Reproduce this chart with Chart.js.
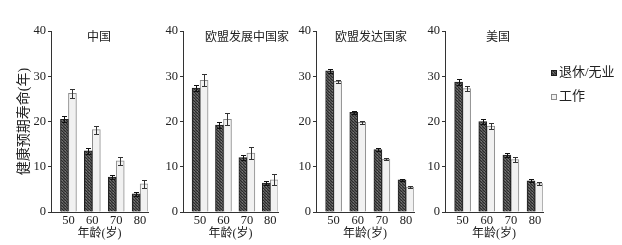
<!DOCTYPE html>
<html>
<head>
<meta charset="utf-8">
<script src="https://cdn.jsdelivr.net/npm/chart.js@4.4.1/dist/chart.umd.min.js"></script>
<style>
    body { margin: 0; background: #fff; width: 622px; height: 245px; overflow: hidden; position: relative; }
    canvas { position: absolute; top: 0; }
</style>
</head>
<body>
<canvas id="c0" width="150" height="245" style="left:0"></canvas>
<canvas id="c1" width="142" height="245" style="left:150px"></canvas>
<canvas id="c2" width="134" height="245" style="left:282px"></canvas>
<canvas id="c3" width="206" height="245" style="left:416px"></canvas>
<script>
const ages = [50, 60, 70, 80]
const yTicks = [0, 10, 20, 30, 40]
const panelNames = ['中国', '欧盟发展中国家', '欧盟发达国家', '美国']
const seriesNames = ['退休/无业', '工作']
const yTitle = '健康预期寿命(年)'
const xTitle = '年龄(岁)'

const chinaRetired = [20.5, 13.5, 7.7, 4.0]
const chinaRetiredErr = [0.7, 0.6, 0.5, 0.4]
const chinaWorking = [26.2, 18.2, 11.3, 6.2]
const chinaWorkingErr = [0.9, 0.9, 0.9, 0.8]

const euDevRetired = [27.4, 19.2, 12.0, 6.4]
const euDevRetiredErr = [0.7, 0.6, 0.6, 0.5]
const euDevWorking = [29.1, 20.5, 13.0, 7.1]
const euDevWorkingErr = [1.3, 1.3, 1.3, 1.2]

const euAdvRetired = [31.2, 22.0, 13.8, 7.1]
const euAdvRetiredErr = [0.4, 0.3, 0.3, 0.2]
const euAdvWorking = [28.9, 19.8, 11.7, 5.5]
const euAdvWorkingErr = [0.3, 0.4, 0.3, 0.2]

const usRetired = [28.7, 20.0, 12.6, 6.9]
const usRetiredErr = [0.6, 0.6, 0.4, 0.3]
const usWorking = [27.3, 19.0, 11.6, 6.3]
const usWorkingErr = [0.6, 0.6, 0.5, 0.4]

const SERIF = '"Liberation Serif", "Noto Sans CJK SC", serif'
const CJK = '"Liberation Serif", "Noto Sans CJK SC", sans-serif'

// dark crosshatch fill for the retired bars
function hatch() {
    const c = document.createElement('canvas')
    c.width = 3
    c.height = 3
    const g = c.getContext('2d')
    g.fillStyle = '#555'
    g.fillRect(0, 0, 3, 3)
    g.fillStyle = '#2a2a2a'
    g.fillRect(0, 0, 1, 1)
    g.fillRect(1, 1, 1, 1)
    g.fillRect(2, 2, 1, 1)
    g.fillStyle = '#777'
    g.fillRect(2, 0, 1, 1)
    return g.createPattern(c, 'repeat')
}
const hatchFill = hatch()

const errorBars = {
    id: 'errorBars',
    afterDatasetsDraw(chart) {
        const { ctx } = chart
        const y = chart.scales.y
        chart.data.datasets.forEach((ds, i) => {
            const meta = chart.getDatasetMeta(i)
            ctx.save()
            ctx.strokeStyle = ds.errorColor
            ctx.lineWidth = 1
            meta.data.forEach((bar, j) => {
                const v = ds.data[j].y
                const top = Math.round(y.getPixelForValue(v + ds.errors[j])) + 0.5
                const bottom = Math.round(y.getPixelForValue(v - ds.errors[j])) + 0.5
                const x = Math.round(bar.x) + 0.5
                ctx.beginPath()
                ctx.moveTo(x, top)
                ctx.lineTo(x, bottom)
                ctx.moveTo(x - 2.5, top)
                ctx.lineTo(x + 2.5, top)
                ctx.moveTo(x - 2.5, bottom)
                ctx.lineTo(x + 2.5, bottom)
                ctx.stroke()
            })
            ctx.restore()
        })
    }
}

const panelTitle = {
    id: 'panelTitle',
    afterDraw(chart, args, opts) {
        const { ctx } = chart
        ctx.save()
        ctx.font = `12px ${CJK}`
        ctx.fillStyle = '#222'
        ctx.textAlign = 'center'
        ctx.textBaseline = 'middle'
        ctx.fillText(opts.text, opts.x, 38)
        ctx.restore()
    }
}

const sideLegend = {
    id: 'sideLegend',
    afterDraw(chart, args, opts) {
        if (!opts.show) return
        const { ctx } = chart
        ctx.save()
        ctx.font = `13px ${CJK}`
        ctx.textBaseline = 'middle'
        chart.data.datasets.forEach((ds, i) => {
            const yy = 73 + i * 24
            ctx.fillStyle = ds.backgroundColor
            ctx.fillRect(135, yy - 3, 6, 6)
            ctx.strokeStyle = ds.borderColor
            ctx.lineWidth = 1
            ctx.strokeRect(135.5, yy - 2.5, 5, 5)
            ctx.fillStyle = '#222'
            ctx.fillText(ds.label, 143, yy)
        })
        ctx.restore()
    }
}

function makePanel(id, opt) {
    const toPoints = vals => ages.map((a, i) => ({ x: a, y: vals[i] }))
    return new Chart(document.getElementById(id), {
        type: 'bar',
        data: {
            datasets: [{
                label: seriesNames[0],
                data: toPoints(opt.retired),
                errors: opt.retiredErr,
                backgroundColor: hatchFill,
                borderColor: '#1e1e1e',
                borderWidth: 1,
                errorColor: '#111',
                barThickness: 8
            }, {
                label: seriesNames[1],
                data: toPoints(opt.working),
                errors: opt.workingErr,
                backgroundColor: '#f1f1f1',
                borderColor: '#8c8c8c',
                borderWidth: 1,
                errorColor: '#333',
                barThickness: 8
            }]
        },
        options: {
            responsive: false,
            animation: false,
            layout: { padding: { top: 31, right: opt.padRight, bottom: 0, left: 0 } },
            plugins: {
                legend: { display: false },
                tooltip: { enabled: false },
                panelTitle: { text: opt.name, x: opt.titleX },
                sideLegend: { show: !!opt.legend }
            },
            scales: {
                x: {
                    type: 'linear',
                    offset: false,
                    min: 42.7,
                    max: 83.3,
                    afterBuildTicks: scale => { scale.ticks = ages.map(v => ({ value: v })) },
                    afterFit: scale => { scale.height = 33 },
                    grid: { display: true, offset: false, drawOnChartArea: false, drawTicks: false },
                    border: { color: '#333', width: 1 },
                    ticks: { color: '#222', font: { family: SERIF, size: 12.5 }, padding: 1, autoSkip: false, maxRotation: 0 },
                    title: { display: true, text: xTitle, color: '#222', font: { family: CJK, size: 12 }, padding: { top: 0, bottom: 4 } }
                },
                y: {
                    min: 0,
                    max: 40,
                    afterBuildTicks: scale => { scale.ticks = yTicks.map(v => ({ value: v })) },
                    afterFit: scale => { scale.width = opt.yWidth },
                    grid: { display: true, drawOnChartArea: false, drawTicks: true, tickLength: 3, color: '#333' },
                    border: { color: '#333', width: 1 },
                    ticks: { color: '#222', font: { family: SERIF, size: 12.5 }, padding: 2 },
                    title: { display: !!opt.yTitle, text: yTitle, color: '#222', font: { family: CJK, size: 14 }, padding: { top: 16, bottom: 0 } }
                }
            }
        },
        plugins: [errorBars, panelTitle, sideLegend]
    })
}

makePanel('c0', { name: panelNames[0], retired: chinaRetired, retiredErr: chinaRetiredErr, working: chinaWorking, workingErr: chinaWorkingErr, yWidth: 51, padRight: 2, titleX: 99, yTitle: true })
makePanel('c1', { name: panelNames[1], retired: euDevRetired, retiredErr: euDevRetiredErr, working: euDevWorking, workingErr: euDevWorkingErr, yWidth: 33, padRight: 14, titleX: 97 })
makePanel('c2', { name: panelNames[2], retired: euAdvRetired, retiredErr: euAdvRetiredErr, working: euAdvWorking, workingErr: euAdvWorkingErr, yWidth: 34, padRight: 2, titleX: 89 })
makePanel('c3', { name: panelNames[3], retired: usRetired, retiredErr: usRetiredErr, working: usWorking, workingErr: usWorkingErr, yWidth: 29, padRight: 79, titleX: 82, legend: true })
</script>
</body>
</html>
